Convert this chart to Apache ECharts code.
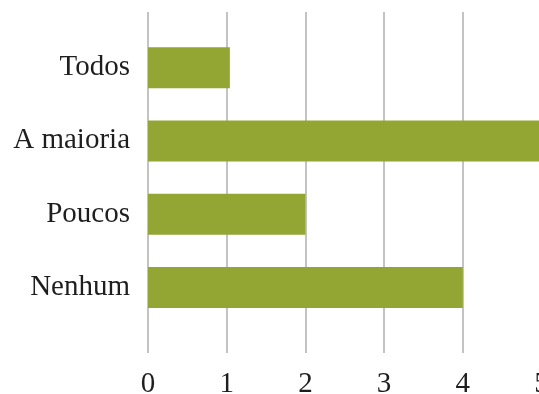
<!DOCTYPE html>
<html>
<head>
<meta charset="utf-8">
<script src="https://cdn.jsdelivr.net/npm/echarts@6/dist/echarts.min.js"></script>
<style>
  html, body { margin: 0; padding: 0; background: #fff; }
  #chart { width: 539px; height: 394px; }
</style>
</head>
<body>
<div id="chart"></div>
<script>
// Answer categories, listed top to bottom
const categories = ['Todos', 'A maioria', 'Poucos', 'Nenhum'];
// Count for each category
const counts = [1.04, 5, 2, 4];
// Value axis range and tick step
const axisMin = 0;
const axisMax = 5;
const tickStep = 1;

const textFont = 'Liberation Serif, Times New Roman, serif';
const barColor = '#93a634';
const gridColor = '#c3c3c3';

const chart = echarts.init(document.getElementById('chart'), null, { renderer: 'canvas' });

chart.setOption({
  animation: false,
  backgroundColor: '#ffffff',
  grid: [
    // full-height grid carrying the vertical gridlines and the value labels
    { left: 148, width: 393.5, top: 12, height: 341, outerBoundsMode: 'none', containLabel: false },
    // grid holding the bars and category labels
    { left: 148, width: 393.5, top: 31, height: 293, outerBoundsMode: 'none', containLabel: false }
  ],
  xAxis: [
    {
      gridIndex: 0,
      type: 'value',
      min: axisMin,
      max: axisMax,
      interval: tickStep,
      axisLine: { show: false },
      axisTick: { show: false },
      splitLine: { show: true, lineStyle: { color: gridColor, width: 2 } },
      axisLabel: {
        show: true,
        margin: 17,
        color: '#1e1e1e',
        fontFamily: textFont,
        fontSize: 29,
        showMaxLabel: true
      }
    },
    {
      gridIndex: 1,
      type: 'value',
      min: axisMin,
      max: axisMax,
      interval: tickStep,
      show: false,
      splitLine: { show: false }
    }
  ],
  yAxis: [
    {
      gridIndex: 0,
      type: 'value',
      show: false,
      splitLine: { show: false }
    },
    {
      gridIndex: 1,
      type: 'category',
      data: categories,
      inverse: true,
      axisLine: { show: false },
      axisTick: { show: false },
      splitLine: { show: false },
      axisLabel: {
        margin: 18,
        color: '#1e1e1e',
        fontFamily: textFont,
        fontSize: 29
      }
    }
  ],
  series: [
    {
      type: 'bar',
      xAxisIndex: 1,
      yAxisIndex: 1,
      data: counts,
      barWidth: 41,
      itemStyle: { color: barColor },
      silent: true
    }
  ]
});
</script>
</body>
</html>
